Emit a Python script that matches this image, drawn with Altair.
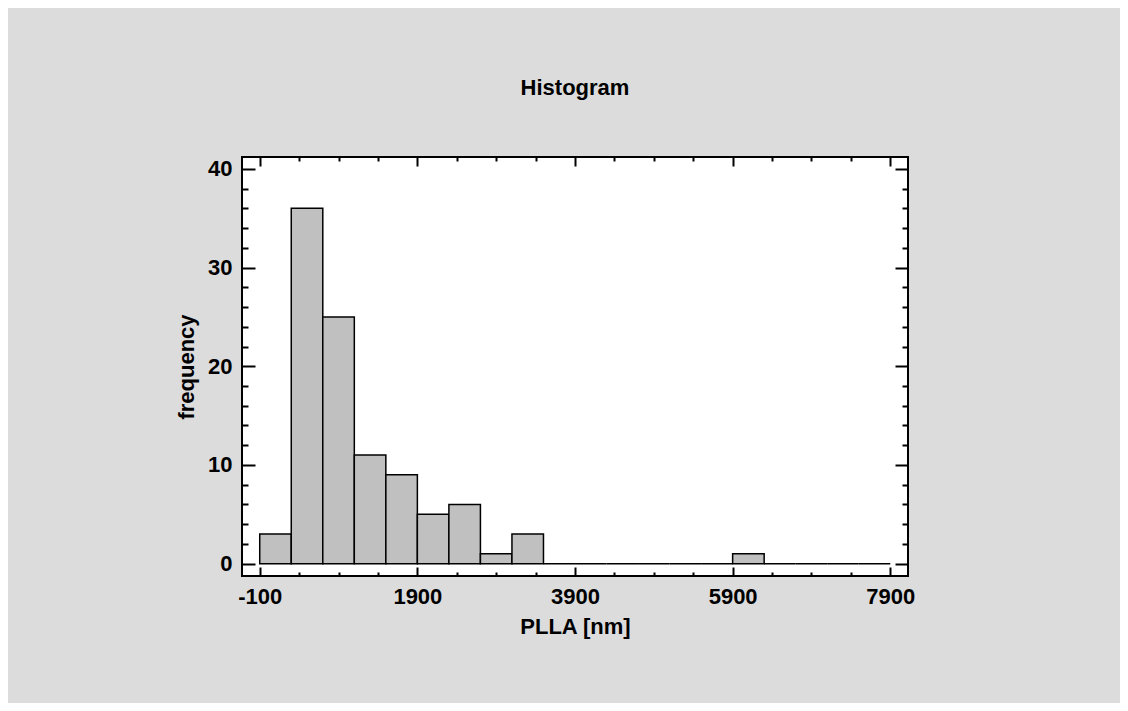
import altair as alt
import pandas as pd

bin_start = [-100, 300, 700, 1100, 1500, 1900, 2300, 2700, 3100, 3500,
             3900, 4300, 4700, 5100, 5500, 5900, 6300, 6700, 7100, 7500]
bin_end = [300, 700, 1100, 1500, 1900, 2300, 2700, 3100, 3500, 3900,
           4300, 4700, 5100, 5500, 5900, 6300, 6700, 7100, 7500, 7900]
counts = [3, 36, 25, 11, 9, 5, 6, 1, 3, 0, 0, 0, 0, 0, 0, 1, 0, 0, 0, 0]
base = [0] * len(counts)

x_major = [-100, 1900, 3900, 5900, 7900]
x_minor = [400, 900, 1400, 2400, 2900, 3400, 4400, 4900, 5400, 6400, 6900, 7400]
y_major = [0, 10, 20, 30, 40]
y_minor = [2, 4, 6, 8, 12, 14, 16, 18, 22, 24, 26, 28, 32, 34, 36, 38]

df = pd.DataFrame({"start": bin_start, "end": bin_end, "count": counts, "base": base})

FONT = "Liberation Sans"
FS = 22
xscale = alt.Scale(domain=[-325, 8125], nice=False, zero=False)
yscale = alt.Scale(domain=[-1.25, 41.2], nice=False, zero=False)


def tick_axis(orient, values, size):
    return alt.Axis(orient=orient, values=values, tickSize=size, offset=-size,
                    domain=False, grid=False, labels=False, ticks=True,
                    tickColor="black", tickWidth=2, title=None, zindex=2)


main_x = alt.Axis(orient="bottom", values=x_major, tickSize=9, offset=-9,
                  domain=False, grid=False, tickColor="black", tickWidth=2,
                  labelExpr="'' + datum.value", labelFont=FONT, labelFontSize=FS,
                  labelFontWeight="bold", labelColor="black", labelPadding=10,
                  labelOverlap=False, labelFlush=False,
                  title="PLLA [nm]", titleFont=FONT, titleFontSize=FS,
                  titleFontWeight="bold", titleColor="black", titlePadding=9,
                  zindex=2)
main_y = alt.Axis(orient="left", values=y_major, tickSize=13, offset=-13,
                  domain=False, grid=False, tickColor="black", tickWidth=2,
                  labelExpr="'' + datum.value", labelFont=FONT, labelFontSize=FS,
                  labelFontWeight="bold", labelColor="black", labelPadding=10,
                  labelOverlap=False, labelFlush=False,
                  title="frequency", titleFont=FONT, titleFontSize=FS,
                  titleFontWeight="bold", titleColor="black", titlePadding=9,
                  zindex=2)

bars = alt.Chart(df).mark_rect(fill="#c0c0c0", stroke="black", strokeWidth=1.5).encode(
    x=alt.X("start:Q", scale=xscale, axis=main_x),
    x2="end:Q",
    y=alt.Y("count:Q", scale=yscale, axis=main_y),
    y2="base:Q",
)

def ghost(xa, ya):
    return alt.Chart(df).mark_point(opacity=0).encode(
        x=alt.X("start:Q", scale=xscale, axis=xa),
        y=alt.Y("count:Q", scale=yscale, axis=ya),
    )

l1 = ghost(tick_axis("bottom", x_minor, 4), tick_axis("left", y_minor, 6))
l2 = ghost(tick_axis("top", x_major, 9), tick_axis("right", y_major, 13))
l3 = ghost(tick_axis("top", x_minor, 4), tick_axis("right", y_minor, 6))

chart = alt.layer(bars, l1, l2, l3).resolve_axis(
    x="independent", y="independent"
).properties(
    width=666, height=419,
    background="#dcdcdc",
    padding={"left": 234, "top": 149, "right": 212, "bottom": 127},
    autosize=alt.AutoSizeParams(type="none"),
    title=alt.Title("Histogram", font=FONT, fontSize=FS, fontWeight="bold",
                    color="black", anchor="middle", offset=56),
).configure_view(stroke="black", strokeWidth=2, fill="white")

chart.save("out.html", embed_options={"renderer": "svg", "actions": False})
